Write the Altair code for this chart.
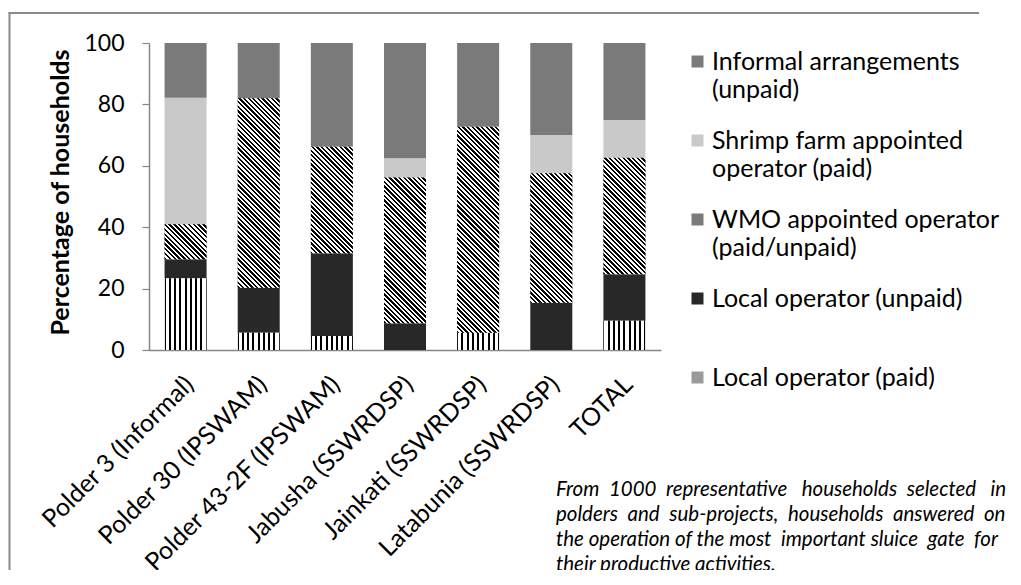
import altair as alt

# ---------------- data ----------------
sites = ["Polder 3 (Informal)", "Polder 30 (IPSWAM)", "Polder 43-2F  (IPSWAM)",
         "Jabusha (SSWRDSP)", "Jainkati (SSWRDSP)", "Latabunia (SSWRDSP)", "TOTAL"]

categories = ["Informal arrangements (unpaid)",
              "Shrimp farm appointed operator (paid)",
              "WMO appointed operator (paid/unpaid)",
              "Local operator  (unpaid)",
              "Local operator (paid)"]

local_paid   = [23.4, 5.6, 4.6, 0.0, 5.6, 0.0, 9.5]
local_unpaid = [6.2, 14.7, 26.9, 8.7, 0.0, 15.4, 15.2]
wmo          = [11.4, 61.7, 34.7, 47.5, 67.1, 42.2, 37.9]
shrimp       = [41.2, 0.0, 0.0, 6.3, 0.0, 12.4, 12.3]
informal     = [17.8, 18.0, 33.8, 37.5, 27.3, 30.0, 25.1]

y_ticks = list(range(0, 101, 10))

NB = "\u00a0"
footnote = ["From " + NB + "1000 " + NB + "representative " + NB + NB + "households " + NB + "selected " + NB + NB + "in",
            "polders " + NB + "and " + NB + "sub-projects, " + NB + "households " + NB + "answered " + NB + "on",
            "the operation of the most " + NB + "important sluice " + NB + "gate " + NB + "for",
            "their productive activities."]

# ---------------- styling ----------------
W, H = 512, 307
BAR = 42
PX = H / 100.0
FONT = "Lato"
GREY = "#868686"
solid = ["#7a7a7a", "#c9c9c9", "#7a7a7a", "#282828", "#9a9a9a"]


def diag_stripes(h):
    """black/white '\\' hatching for a bar segment of pixel height h"""
    w = BAR
    k = (w + h) / (w * w + h * h)
    length = (w + h) / 2 ** 0.5
    n = max(1, round(length / 3.3))
    stops = []
    for i in range(n):
        a, b, c = i / n, (i + 0.5) / n, (i + 1) / n
        stops += [{"offset": a, "color": "#000"}, {"offset": b, "color": "#000"},
                  {"offset": b, "color": "#fff"}, {"offset": c, "color": "#fff"}]
    return {"gradient": "linear", "x1": 0, "y1": 1, "x2": k * w, "y2": 1 - k * h,
            "stops": stops}


def vert_stripes():
    stops = []
    step, lw = BAR / 8, 2.0
    for i in range(9):
        c = i * step
        a = max(0.0, (c - lw / 2) / BAR)
        b = min(1.0, (c + lw / 2) / BAR)
        stops += [{"offset": a, "color": "#fff"}, {"offset": a, "color": "#000"},
                  {"offset": b, "color": "#000"}, {"offset": b, "color": "#fff"}]
    return {"gradient": "linear", "x1": 0, "y1": 0, "x2": 1, "y2": 0, "stops": stops}


series = [(categories[4], local_paid, 0), (categories[3], local_unpaid, 1),
          (categories[2], wmo, 2), (categories[1], shrimp, 3), (categories[0], informal, 4)]

rows = []
for si, site in enumerate(sites):
    for cat, vals, order in series:
        v = vals[si]
        grad = None
        if v > 0 and order == 2:
            grad = diag_stripes(v * PX)
        elif v > 0 and order == 0:
            grad = vert_stripes()
        rows.append({"site": site, "cat": cat, "value": v, "order": order, "grad": grad})

data = alt.Data(values=rows)

x_enc = alt.X("site:N", sort=sites, title=None,
              scale=alt.Scale(paddingInner=0.426, paddingOuter=0.213),
              axis=alt.Axis(labelAngle=-45, labelAlign="right", labelBaseline="middle",
                            labelFont=FONT, labelFontSize=25, labelColor="#000",
                            labelPadding=30, labelLimit=400, labelOffset=4,
                            labelOverlap=False,
                            ticks=False, domainColor=GREY, domainWidth=1.5))
y_enc = alt.Y("v0:Q", title="Percentage of households",
              scale=alt.Scale(domain=[0, 100], nice=False),
              axis=alt.Axis(values=y_ticks, tickCount=10, grid=False, tickSize=7, tickColor=GREY,
                            tickWidth=1.2, domainColor=GREY, domainWidth=1.5,
                            labelFont=FONT, labelFontSize=23, labelColor="#000",
                            labelPadding=18, labelOverlap=False,
                            titleFont=FONT, titleFontSize=25, titleFontWeight="bold",
                            titleColor="#000", titleX=-76, titleY=149,
                            titleAlign="center", titleBaseline="bottom", titleAngle=-90))

label_expr = (
    "datum.label == 'Informal arrangements (unpaid)' ? ['Informal arrangements', '(unpaid)'] : "
    "datum.label == 'Shrimp farm appointed operator (paid)' ? ['Shrimp farm appointed', 'operator (paid)'] : "
    "datum.label == 'WMO appointed operator (paid/unpaid)' ? ['WMO appointed operator', '(paid/unpaid)'] : "
    "datum.label == 'Local operator  (unpaid)' ? ['Local operator  (unpaid)', ''] : "
    "['Local operator (paid)']"
)
leg = alt.Legend(title=None, orient="none", legendX=536, legendY=6,
                 labelFont=FONT, labelFontSize=25, labelColor="#000", labelLimit=500,
                 labelBaseline="middle", labelOffset=2, symbolSize=144,
                 symbolType="square", symbolStrokeWidth=0, rowPadding=25,
                 labelExpr=label_expr)

base_bars = alt.Chart().mark_bar(size=BAR).encode(
    x=x_enc, y=y_enc, y2="v1:Q",
    color=alt.Color("cat:N", scale=alt.Scale(domain=categories, range=solid), legend=leg),
)

pattern_bars = alt.Chart().mark_bar(size=BAR).encode(
    x=x_enc, y=y_enc, y2="v1:Q",
    fill=alt.Fill("grad:N", scale=None),
).transform_filter("datum.grad != null")

frame_top = alt.Chart(alt.Data(values=[{}])).mark_rule(
    stroke="#8a8a8a", strokeWidth=2
).encode(x=alt.value(-140.5), x2=alt.value(830), y=alt.value(-30))
frame_left = alt.Chart(alt.Data(values=[{}])).mark_rule(
    stroke="#8a8a8a", strokeWidth=2
).encode(x=alt.value(-139.5), y=alt.value(-31), y2=alt.value(600))

note = alt.Chart(alt.Data(values=[{}])).mark_text(
    align="left", baseline="alphabetic", font=FONT, fontSize=20.5, fontStyle="italic",
    color="#000", lineHeight=25
).encode(x=alt.value(407), y=alt.value(452.7), text=alt.value(footnote))

main = alt.layer(base_bars, pattern_bars, data=data).transform_stack(
    stack="value", groupby=["site"], as_=["v0", "v1"],
    sort=[alt.SortField("order", order="ascending")]
)

chart = alt.layer(frame_top, frame_left, main, note).properties(
    width=W, height=H,
    padding={"left": 141, "top": 35, "right": 350, "bottom": 220},
    autosize=alt.AutoSizeParams(type="none"),
).configure(
    view={"stroke": "transparent"},
    style={"guide-label": {"lineHeight": 28}},
)

chart.save("out.html", embed_options={"renderer": "svg", "actions": False})
